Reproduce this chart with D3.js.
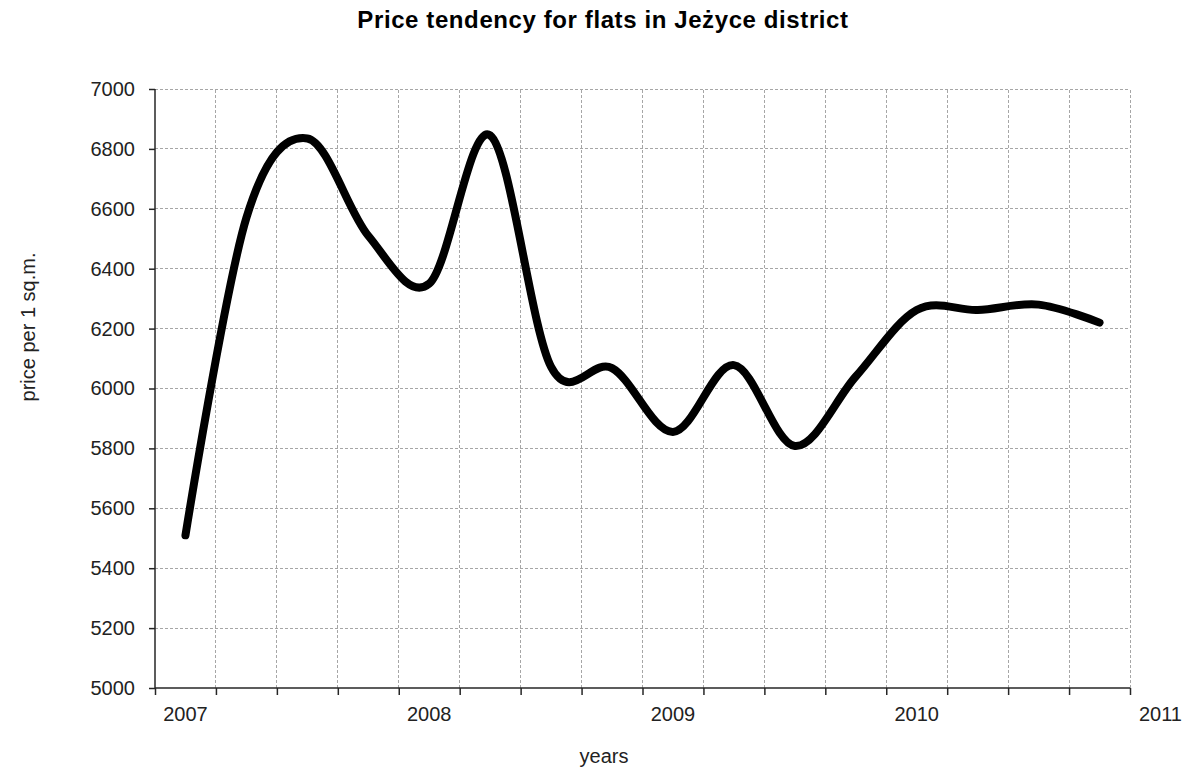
<!DOCTYPE html>
<html>
<head>
<meta charset="utf-8">
<script src="https://cdn.jsdelivr.net/npm/d3@7"></script>
<style>
  body { margin: 0; background: #fff; }
  svg { display: block; font-family: "Liberation Sans", Arial, sans-serif; }
</style>
</head>
<body>
<script>
// quarterly average price per sq.m.
const periods = ["2007 Q1", "2007 Q2", "2007 Q3", "2007 Q4",
                 "2008 Q1", "2008 Q2", "2008 Q3", "2008 Q4",
                 "2009 Q1", "2009 Q2", "2009 Q3", "2009 Q4",
                 "2010 Q1", "2010 Q2", "2010 Q3", "2010 Q4"];
const prices = [5510, 6570, 6835, 6510,
                6350, 6845, 6072, 6068,
                5855, 6078, 5808, 6040,
                6262, 6262, 6280, 6220];
const yearLabels = [2007, 2008, 2009, 2010, 2011];
const priceTicks = [5000, 5200, 5400, 5600, 5800, 6000, 6200, 6400, 6600, 6800, 7000];

const width = 1191, height = 769;
const margin = {top: 89, right: 61, bottom: 81, left: 155};

// "2007 Q3" -> middle of that quarter on a continuous time axis
const toTime = p => {
  const [y, q] = p.split(" Q");
  return +y + (+q - 1) / 4 + 1 / 8;
};
const data = periods.map((p, i) => ({t: toTime(p), v: prices[i]}));

const x = d3.scaleLinear()
    .domain([yearLabels[0], yearLabels[yearLabels.length - 1]])
    .range([margin.left, width - margin.right]);
const y = d3.scaleLinear()
    .domain([5000, 7000])
    .range([height - margin.bottom, margin.top]);

const quarterTicks = d3.range(16).map(i => yearLabels[0] + i / 4).concat(yearLabels[yearLabels.length - 1]);

const svg = d3.select("body").append("svg")
    .attr("width", width)
    .attr("height", height);

// grid
const grid = svg.append("g")
    .attr("stroke", "#a6a6a6")
    .attr("stroke-width", 1)
    .attr("stroke-dasharray", "3,2")
    .attr("shape-rendering", "crispEdges");

grid.selectAll("line.h")
  .data(priceTicks.slice(1))
  .join("line")
    .attr("class", "h")
    .attr("x1", x.range()[0])
    .attr("x2", x.range()[1])
    .attr("y1", d => y(d))
    .attr("y2", d => y(d));

grid.selectAll("line.v")
  .data(quarterTicks.slice(1))
  .join("line")
    .attr("class", "v")
    .attr("x1", d => x(d))
    .attr("x2", d => x(d))
    .attr("y1", y.range()[0])
    .attr("y2", y.range()[1]);

// axes
const yAxis = svg.append("g")
    .attr("transform", `translate(${margin.left},0)`)
    .call(d3.axisLeft(y).tickValues(priceTicks).tickFormat(d3.format("d")).tickSize(6).tickPadding(14));

const xAxis = svg.append("g")
    .attr("transform", `translate(0,${height - margin.bottom})`)
    .call(d3.axisBottom(x).tickValues(quarterTicks).tickSize(7).tickFormat(""));

[yAxis, xAxis].forEach(g => {
  g.selectAll(".domain, .tick line")
      .attr("stroke", "#262626")
      .attr("stroke-width", 1.5);
  g.selectAll("text")
      .attr("fill", "#222")
      .attr("font-size", 20)
      .attr("font-family", "Liberation Sans, Arial, sans-serif");
});
yAxis.select(".domain").attr("d", `M0,${y.range()[0]}V${y.range()[1]}`);
xAxis.select(".domain").attr("d", `M${x.range()[0]},0H${x.range()[1]}`);

// year labels sit in the middle of each first quarter
svg.append("g")
    .attr("font-size", 20)
    .attr("fill", "#222")
    .attr("text-anchor", "middle")
  .selectAll("text")
  .data(yearLabels)
  .join("text")
    .attr("x", d => x(d + 1 / 8))
    .attr("y", height - margin.bottom + 33)
    .text(d => d);

// price line
const line = d3.line()
    .x(d => x(d.t))
    .y(d => y(d.v))
    .curve(d3.curveCardinal.tension(0));

svg.append("path")
    .datum(data)
    .attr("fill", "none")
    .attr("stroke", "#000")
    .attr("stroke-width", 8)
    .attr("stroke-linecap", "round")
    .attr("stroke-linejoin", "round")
    .attr("d", line);

// titles
svg.append("text")
    .attr("x", 603)
    .attr("y", 28)
    .attr("text-anchor", "middle")
    .attr("font-size", 24)
    .attr("font-weight", "bold")
    .attr("letter-spacing", 0.6)
    .text("Price tendency for flats in Jeżyce district");

svg.append("text")
    .attr("x", 604)
    .attr("y", 763)
    .attr("text-anchor", "middle")
    .attr("font-size", 20)
    .attr("fill", "#222")
    .text("years");

svg.append("text")
    .attr("transform", "translate(35,327) rotate(-90)")
    .attr("text-anchor", "middle")
    .attr("font-size", 20)
    .attr("fill", "#222")
    .text("price per 1 sq.m.");
</script>
</body>
</html>
